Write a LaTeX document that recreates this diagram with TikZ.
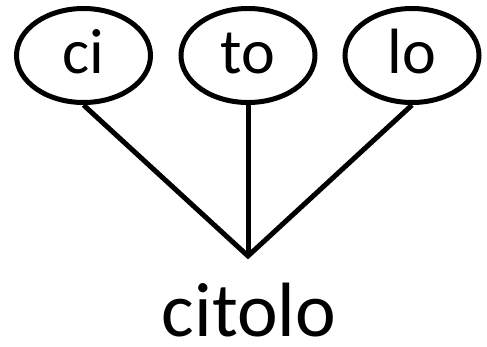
\documentclass[tikz,border=0pt]{standalone}
\usepackage{fontspec}
\setmainfont{Carlito}
\usetikzlibrary{shapes.geometric}
\begin{document}
\begin{tikzpicture}[x=1pt,y=-1pt,
  leaf/.style={draw,line width=5pt,ellipse,minimum width=134pt,minimum height=94pt,inner sep=0pt,text height=35pt,text depth=0pt,font=\fontsize{64}{64}\selectfont},
  link/.style={line width=5pt,line join=miter}]
\useasboundingbox (0,0) rectangle (487,346);
\node[leaf] (ci) at (83.5,55.5) {ci};
\node[leaf] (to) at (248,55.5) {to};
\node[leaf] (lo) at (412,55.5) {lo};
\coordinate (apex) at (248,256);
\node[anchor=base,font=\fontsize{77}{77}\selectfont,inner sep=0pt,text depth=0pt] (word) at (249,336) {citolo};
\draw[link] (ci.south) -- (apex) -- (lo.south);
\draw[link] (to.south) -- (apex);
\end{tikzpicture}
\end{document}
